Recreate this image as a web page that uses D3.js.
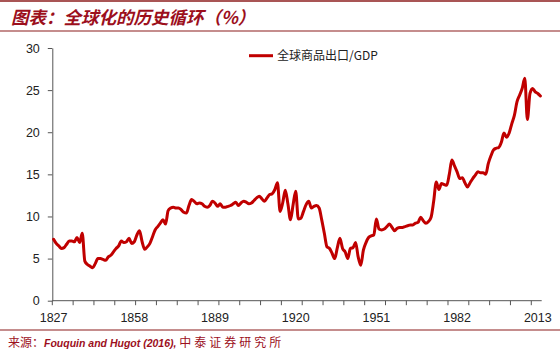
<!DOCTYPE html>
<html>
<head>
<meta charset="utf-8">
<script src="https://cdn.jsdelivr.net/npm/d3@7"></script>
<style>
  html, body { margin: 0; padding: 0; background: #fff; }
  svg { display: block; }
  text { font-family: "Liberation Sans", Arial, sans-serif; }
  .cjk { font-family: "Noto Sans CJK SC", "Liberation Sans", sans-serif; }
</style>
</head>
<body>
<svg id="chart" width="560" height="354"></svg>
<script>
// annual categories 1827-2014
const years = d3.range(1827, 2015);

// world merchandise exports / GDP (%)
const exportShare = [
  7.3, 6.8, 6.5, 6.2, 6.3, 6.7, 7.1, 7.1, 7.0, 7.5,   // 1827-1836
  6.9, 8.0, 4.7, 4.3, 4.1, 3.9, 4.4, 5.0, 5.0, 4.9,   // 1837-1846
  4.8, 5.2, 5.4, 5.8, 6.2, 6.5, 7.1, 6.9, 7.0, 7.4,   // 1847-1856
  6.8, 7.0, 7.8, 8.3, 7.0, 6.1, 6.4, 6.8, 7.6, 8.4,   // 1857-1866
  8.8, 9.2, 9.6, 9.1, 10.7, 11.0, 11.1, 11.0, 11.0, 10.8, // 1867-1876
  10.5, 10.4, 11.3, 12.0, 11.8, 11.5, 11.6, 11.5, 11.2, 11.1, // 1877-1886
  11.3, 11.8, 11.6, 11.2, 11.5, 11.1, 11.1, 11.2, 11.3, 11.5, // 1887-1896
  11.7, 11.3, 11.6, 11.8, 11.7, 11.5, 11.6, 11.9, 12.2, 12.4, // 1897-1906
  12.1, 11.8, 12.2, 12.6, 12.7, 13.2, 14.0, 10.6, 11.6, 13.1, // 1907-1916
  11.5, 9.6, 11.4, 13.0, 9.7, 9.8, 10.6, 11.4, 11.8, 11.0,   // 1917-1926
  11.2, 11.3, 11.0, 9.6, 8.0, 6.4, 6.2, 5.6, 5.0, 6.3,       // 1927-1936
  7.4, 6.2, 5.8, 5.0, 6.2, 6.3, 6.9, 5.2, 4.2, 6.0,          // 1937-1946
  6.9, 7.5, 7.7, 7.8, 9.7, 8.5, 8.4, 8.5, 8.8, 9.1,          // 1947-1956
  8.7, 8.3, 8.6, 8.7, 8.7, 8.8, 8.9, 9.0, 9.0, 9.2,          // 1957-1966
  9.3, 9.9, 9.5, 9.2, 9.4, 9.9, 11.8, 14.1, 13.2, 13.9,      // 1967-1976
  13.8, 13.7, 15.0, 16.7, 16.0, 15.3, 14.5, 14.6, 14.0, 13.5, // 1977-1986
  14.0, 14.5, 14.9, 15.3, 15.2, 15.2, 15.0, 16.3, 17.2, 17.9, // 1987-1996
  18.1, 18.2, 18.8, 19.9, 19.4, 19.9, 21.0, 22.0, 23.6, 24.4, // 1997-2006
  25.2, 26.4, 21.5, 24.6, 25.2, 24.8, 24.6, 24.3             // 2007-2014
];

const yTicks = [0, 5, 10, 15, 20, 25, 30];
const xLabelYears = [1827, 1858, 1889, 1920, 1951, 1982, 2013];
const tickEvery = 8;  // minor tick marks every 8 categories

const titleText = "图表：全球化的历史循环（%）";
const legendText = "全球商品出口/GDP";

const svg = d3.select("#chart");
const dark = "#9c0f1c";
const axisColor = "#555";

// frame lines
svg.append("line").attr("x1", 0).attr("x2", 560).attr("y1", 1).attr("y2", 1)
  .attr("stroke", "#8c1c1c").attr("stroke-width", 1.5);
svg.append("line").attr("x1", 0).attr("x2", 560).attr("y1", 31).attr("y2", 31)
  .attr("stroke", "#8c1c1c").attr("stroke-width", 1.2);
svg.append("line").attr("x1", 0).attr("x2", 560).attr("y1", 330).attr("y2", 330)
  .attr("stroke", "#8c1c1c").attr("stroke-width", 1.2);

// title
svg.append("text").attr("class", "cjk")
  .attr("x", 11).attr("y", 24)
  .attr("font-size", 17.5).attr("font-weight", "bold").attr("font-style", "italic")
  .attr("fill", dark)
  .text(titleText);

// source
const src = svg.append("text").attr("class", "cjk")
  .attr("x", 8).attr("y", 347).attr("font-size", 12).attr("fill", dark);
src.append("tspan").text("来源：");
src.append("tspan").attr("font-family", "Liberation Sans, Arial, sans-serif")
  .attr("font-size", 10.5)
  .attr("font-weight", "bold").attr("font-style", "italic").text("Fouquin and Hugot (2016), ");
src.append("tspan").attr("letter-spacing", 3).text("中泰证券研究所");

// scales
const x = d3.scaleBand().domain(years).range([52.3, 541.7]).padding(0);
const y = d3.scaleLinear().domain([0, 30]).range([300.7, 48]);

// y axis
const yAxis = svg.append("g")
  .attr("transform", "translate(52.3,0)")
  .call(d3.axisLeft(y).tickValues(yTicks).tickSize(4.5).tickSizeOuter(0).tickPadding(8));
yAxis.select(".domain").attr("stroke", axisColor);
yAxis.selectAll(".tick line").attr("stroke", axisColor);
yAxis.selectAll(".tick text")
  .attr("font-family", "Liberation Sans, Arial, sans-serif")
  .attr("font-size", 12.5).attr("fill", "#222");

// x axis: line, tick marks at category boundaries, labels at category centres
const xg = svg.append("g");
xg.append("line")
  .attr("x1", x.range()[0]).attr("x2", x.range()[1])
  .attr("y1", y(0)).attr("y2", y(0))
  .attr("stroke", axisColor);
xg.selectAll(".xt")
  .data(years.filter((d, i) => i % tickEvery === 0))
  .join("line")
  .attr("class", "xt")
  .attr("x1", d => x(d)).attr("x2", d => x(d))
  .attr("y1", y(0)).attr("y2", y(0) + 4.5)
  .attr("stroke", axisColor);
xg.selectAll(".xl")
  .data(xLabelYears)
  .join("text")
  .attr("class", "xl")
  .attr("x", d => x(d) + x.bandwidth() / 2)
  .attr("y", 321.5)
  .attr("text-anchor", "middle")
  .attr("font-size", 12.5).attr("fill", "#222")
  .text(d => d);

// series line
const line = d3.line()
  .x((d, i) => x(years[i]) + x.bandwidth() / 2)
  .y(d => y(d))
  .curve(d3.curveMonotoneX);

svg.append("path")
  .datum(exportShare)
  .attr("d", line)
  .attr("fill", "none")
  .attr("stroke", "#c00000")
  .attr("stroke-width", 3)
  .attr("stroke-linejoin", "round")
  .attr("stroke-linecap", "round");

// legend
svg.append("line")
  .attr("x1", 249).attr("x2", 273).attr("y1", 55.7).attr("y2", 55.7)
  .attr("stroke", "#c00000").attr("stroke-width", 3);
svg.append("text").attr("class", "cjk")
  .attr("x", 277).attr("y", 60)
  .attr("font-size", 12).attr("fill", "#222")
  .text(legendText);
</script>
</body>
</html>
